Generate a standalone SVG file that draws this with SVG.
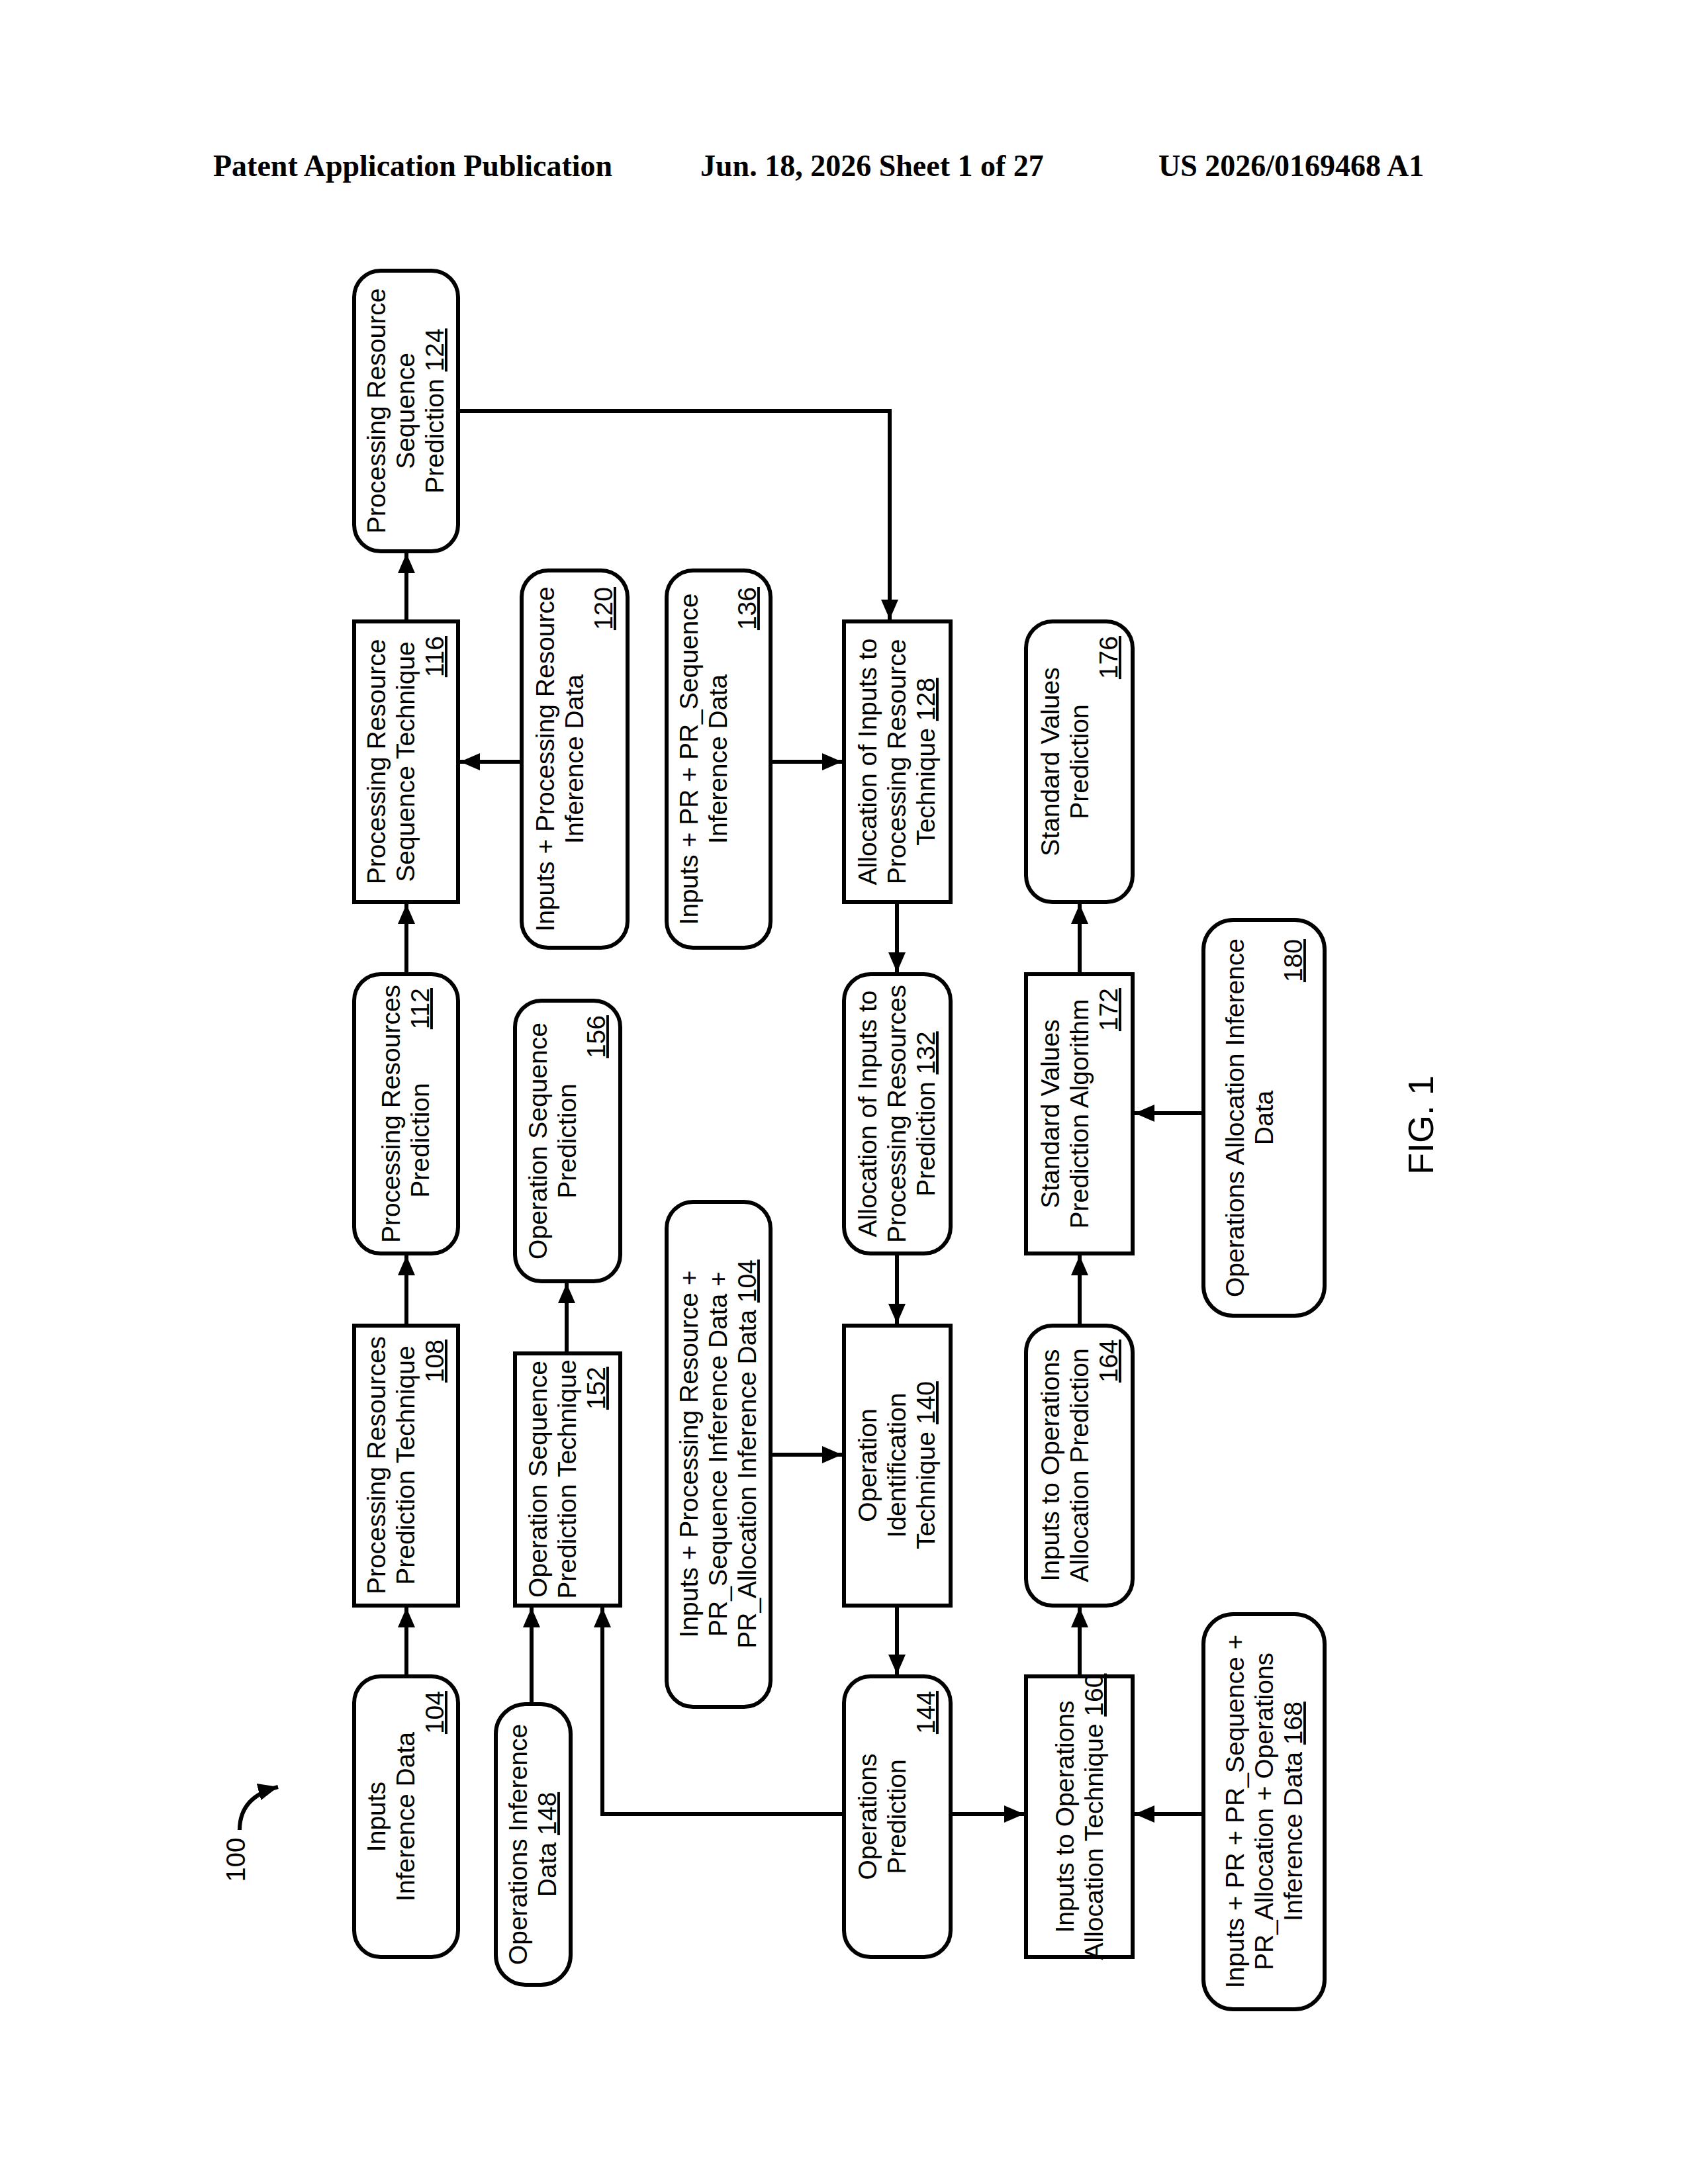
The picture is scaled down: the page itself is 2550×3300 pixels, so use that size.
<svg xmlns="http://www.w3.org/2000/svg" width="2550" height="3300" viewBox="0 0 2550 3300">
<style>
.b{fill:#fff;stroke:#000;stroke-width:6}
.t{font-family:"Liberation Sans",Arial,sans-serif;font-size:39px;fill:#000;text-anchor:middle}
.e{text-anchor:end}
.u{text-decoration:underline}
.c{fill:none;stroke:#000;stroke-width:6}
.h{font-family:"Liberation Serif","Times New Roman",serif;font-size:46px;font-weight:bold}
</style>
<defs><marker id="a" viewBox="0 0 10 10" refX="10" refY="5" markerWidth="30" markerHeight="26" markerUnits="userSpaceOnUse" orient="auto" preserveAspectRatio="none"><path d="M0,0 L10,5 L0,10 z"/></marker></defs>
<text class="h" x="322" y="266">Patent Application Publication</text>
<text class="h" x="1058" y="266">Jun. 18, 2026  Sheet 1 of 27</text>
<text class="h" x="1750" y="266">US 2026/0169468 A1</text>
<g id="connectors">
<path class="c" marker-end="url(#a)" d="M614,2533 V2429"/>
<path class="c" marker-end="url(#a)" d="M614,2003 V1897"/>
<path class="c" marker-end="url(#a)" d="M614,1472 V1366"/>
<path class="c" marker-end="url(#a)" d="M614,939 V836"/>
<path class="c" marker-end="url(#a)" d="M788,1151 H695"/>
<path class="c" marker-end="url(#a)" d="M692,621 H1344 V936"/>
<path class="c" marker-end="url(#a)" d="M1164,1151 H1272"/>
<path class="c" marker-end="url(#a)" d="M1355,1363 V1469"/>
<path class="c" marker-end="url(#a)" d="M1355,1894 V2000"/>
<path class="c" marker-end="url(#a)" d="M1164,2198 H1272"/>
<path class="c" marker-end="url(#a)" d="M1355,2426 V2530"/>
<path class="c" marker-end="url(#a)" d="M1436,2741 H1547"/>
<path class="c" marker-end="url(#a)" d="M1275,2741 H910 V2429"/>
<path class="c" marker-end="url(#a)" d="M803,2575 V2429"/>
<path class="c" marker-end="url(#a)" d="M856,2045 V1939"/>
<path class="c" marker-end="url(#a)" d="M1631,2533 V2429"/>
<path class="c" marker-end="url(#a)" d="M1631,2003 V1897"/>
<path class="c" marker-end="url(#a)" d="M1631,1472 V1366"/>
<path class="c" marker-end="url(#a)" d="M1818,1682 H1714"/>
<path class="c" marker-end="url(#a)" d="M1818,2741 H1714"/>
</g>
<g id="n104"><rect class="b" x="535" y="2533" width="157" height="424" rx="40"/>
<g transform="translate(613,2745) rotate(-90)"><text class="t" y="-31">Inputs</text><text class="t" y="13">Inference Data</text><text class="t e u" x="190" y="57">104</text></g></g>
<g id="n108"><rect class="b" x="535" y="2003" width="157" height="423"/>
<g transform="translate(613,2214) rotate(-90)"><text class="t" y="-31">Processing Resources</text><text class="t" y="13">Prediction Technique</text><text class="t e u" x="190" y="57">108</text></g></g>
<g id="n112"><rect class="b" x="535" y="1472" width="157" height="422" rx="40"/>
<g transform="translate(613,1683) rotate(-90)"><text class="t" y="-9">Processing Resources</text><text class="t" x="-40" y="35">Prediction</text><text class="t e u" x="190" y="35">112</text></g></g>
<g id="n116"><rect class="b" x="535" y="939" width="157" height="424"/>
<g transform="translate(613,1151) rotate(-90)"><text class="t" y="-31">Processing Resource</text><text class="t" y="13">Sequence Technique</text><text class="t e u" x="190" y="57">116</text></g></g>
<g id="n124"><rect class="b" x="535" y="409" width="157" height="424" rx="40"/>
<g transform="translate(613,621) rotate(-90)"><text class="t" y="-31">Processing Resource</text><text class="t" y="13">Sequence</text><text class="t" y="57">Prediction  <tspan class="u">124</tspan></text></g></g>
<g id="n148"><rect class="b" x="749" y="2575" width="113" height="424" rx="45"/>
<g transform="translate(805,2787) rotate(-90)"><text class="t" y="-9">Operations Inference</text><text class="t" y="35">Data   <tspan class="u">148</tspan></text></g></g>
<g id="n152"><rect class="b" x="778" y="2045" width="159" height="381"/>
<g transform="translate(857,2235) rotate(-90)"><text class="t" y="-31">Operation Sequence</text><text class="t" y="13">Prediction Technique</text><text class="t e u" x="170" y="57">152</text></g></g>
<g id="n156"><rect class="b" x="778" y="1512" width="159" height="424" rx="40"/>
<g transform="translate(857,1724) rotate(-90)"><text class="t" y="-31">Operation Sequence</text><text class="t" y="13">Prediction</text><text class="t e u" x="190" y="57">156</text></g></g>
<g id="n120"><rect class="b" x="788" y="862" width="160" height="570" rx="40"/>
<g transform="translate(868,1147) rotate(-90)"><text class="t" y="-31">Inputs + Processing Resource</text><text class="t" y="13">Inference Data</text><text class="t e u" x="260" y="57">120</text></g></g>
<g id="n104b"><rect class="b" x="1007" y="1816" width="157" height="763" rx="40"/>
<g transform="translate(1085,2197) rotate(-90)"><text class="t" y="-31">Inputs + Processing Resource +</text><text class="t" y="13">PR_Sequence Inference Data +</text><text class="t" y="57">PR_Allocation Inference Data  <tspan class="u">104</tspan></text></g></g>
<g id="n136"><rect class="b" x="1007" y="862" width="157" height="570" rx="40"/>
<g transform="translate(1085,1147) rotate(-90)"><text class="t" y="-31">Inputs + PR + PR_Sequence</text><text class="t" y="13">Inference Data</text><text class="t e u" x="260" y="57">136</text></g></g>
<g id="n128"><rect class="b" x="1275" y="939" width="161" height="424"/>
<g transform="translate(1355,1151) rotate(-90)"><text class="t" y="-31">Allocation of Inputs to</text><text class="t" y="13">Processing Resource</text><text class="t" y="57">Technique  <tspan class="u">128</tspan></text></g></g>
<g id="n132"><rect class="b" x="1275" y="1472" width="161" height="422" rx="40"/>
<g transform="translate(1355,1683) rotate(-90)"><text class="t" y="-31">Allocation of Inputs to</text><text class="t" y="13">Processing Resources</text><text class="t" y="57">Prediction  <tspan class="u">132</tspan></text></g></g>
<g id="n140"><rect class="b" x="1275" y="2003" width="161" height="423"/>
<g transform="translate(1355,2214) rotate(-90)"><text class="t" y="-31">Operation</text><text class="t" y="13">Identification</text><text class="t" y="57">Technique  <tspan class="u">140</tspan></text></g></g>
<g id="n144"><rect class="b" x="1275" y="2533" width="161" height="424" rx="40"/>
<g transform="translate(1355,2745) rotate(-90)"><text class="t" y="-31">Operations</text><text class="t" y="13">Prediction</text><text class="t e u" x="190" y="57">144</text></g></g>
<g id="n160"><rect class="b" x="1550" y="2533" width="161" height="424"/>
<g transform="translate(1631,2745) rotate(-90)"><text class="t" y="-9">Inputs to Operations</text><text class="t" y="35">Allocation Technique <tspan class="u">160</tspan></text></g></g>
<g id="n164"><rect class="b" x="1550" y="2003" width="161" height="423" rx="40"/>
<g transform="translate(1631,2214) rotate(-90)"><text class="t" y="-31">Inputs to Operations</text><text class="t" y="13">Allocation Prediction</text><text class="t e u" x="190" y="57">164</text></g></g>
<g id="n172"><rect class="b" x="1550" y="1472" width="161" height="422"/>
<g transform="translate(1631,1683) rotate(-90)"><text class="t" y="-31">Standard Values</text><text class="t" y="13">Prediction Algorithm</text><text class="t e u" x="190" y="57">172</text></g></g>
<g id="n176"><rect class="b" x="1550" y="939" width="161" height="424" rx="40"/>
<g transform="translate(1631,1151) rotate(-90)"><text class="t" y="-31">Standard Values</text><text class="t" y="13">Prediction</text><text class="t e u" x="190" y="57">176</text></g></g>
<g id="n168"><rect class="b" x="1818" y="2439" width="183" height="597" rx="45"/>
<g transform="translate(1910,2737) rotate(-90)"><text class="t" y="-31">Inputs + PR + PR_Sequence +</text><text class="t" y="13">PR_Allocation + Operations</text><text class="t" y="57">Inference Data      <tspan class="u">168</tspan></text></g></g>
<g id="n180"><rect class="b" x="1818" y="1390" width="183" height="598" rx="45"/>
<g transform="translate(1910,1689) rotate(-90)"><text class="t" y="-31">Operations Allocation Inference</text><text class="t" y="13">Data</text><text class="t e u" x="270" y="57">180</text></g></g>
<g id="ref100">
<text class="t" transform="translate(370,2810) rotate(-90)" style="font-size:40px">100</text>
<path class="c" d="M362,2765 Q362,2715 420,2700" marker-end="url(#a)"/>
</g>
<text class="t" transform="translate(2165,1700) rotate(-90)" style="font-size:54px">FIG. 1</text>
</svg>
